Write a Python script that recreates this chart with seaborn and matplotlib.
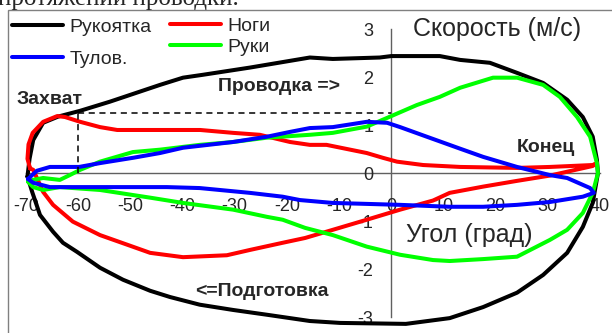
import numpy as np
import pandas as pd
import matplotlib
matplotlib.use("Agg")
import matplotlib.pyplot as plt
import seaborn as sns

# Segment speeds over the stroke cycle: drive (catch -> finish) and recovery (finish -> catch)
handle_drive_angle = [-69.7, -69.3, -68.6, -66.7, -63.8, -59.6, -53.9, -44.3, -39.9, -36.1, -27.1,
                      -15.6, -11.2, -2.2, 0.0, 9.3, 13.2, 18.9, 24.1, 29.1, 33.7, 36.7, 38.6, 39.4, 39.6]
handle_drive_speed = [-0.07, 0.30, 0.69, 1.05, 1.18, 1.30, 1.49, 1.84, 1.99, 2.05, 2.20,
                      2.41, 2.38, 2.41, 2.44, 2.44, 2.36, 2.30, 2.09, 1.88, 1.53, 1.17, 0.76, 0.28, 0.0]
handle_recovery_angle = [39.6, 38.6, 36.7, 33.7, 29.1, 24.1, 17.6, 11.2, 2.8, -9.8, -15.6, -23.8,
                         -30.3, -36.7, -42.4, -46.2, -51.4, -55.8, -60.2, -62.9, -64.8, -67.3, -68.8, -69.7]
handle_recovery_speed = [0.0, -0.62, -1.12, -1.66, -2.12, -2.49, -2.79, -3.02, -3.14, -3.12, -3.08, -2.95,
                         -2.85, -2.74, -2.58, -2.45, -2.22, -1.97, -1.64, -1.45, -1.22, -0.87, -0.39, -0.07]

legs_drive_angle = [-69.2, -69.7, -69.5, -68.7, -66.7, -64.0, -62.5, -59.6, -55.8, -52.5, -44.3, -36.6,
                    -30.3, -25.2, -19.4, -15.6, -12.4, -4.7, -1.6, 1.1, 6.1, 13.2, 24.1, 30.4, 38.6, 39.4]
legs_drive_speed = [0.10, 0.30, 0.60, 0.84, 1.07, 1.19, 1.17, 1.07, 0.96, 0.90, 0.90, 0.90,
                    0.84, 0.80, 0.65, 0.59, 0.59, 0.42, 0.32, 0.24, 0.17, 0.13, 0.11, 0.13, 0.17, 0.21]
legs_recovery_angle = [39.4, 38.6, 30.4, 24.1, 17.6, 11.2, 8.0, 1.7, -4.7, -11.2, -16.5, -20.8,
                       -27.1, -31.5, -39.9, -46.2, -50.6, -55.8, -61.0, -64.8, -66.7, -68.6, -69.2]
legs_recovery_speed = [0.21, 0.15, -0.05, -0.16, -0.28, -0.41, -0.57, -0.76, -0.97, -1.18, -1.35, -1.45,
                       -1.60, -1.71, -1.75, -1.66, -1.49, -1.29, -1.01, -0.66, -0.39, 0.07, 0.10]

arms_drive_angle = [-69.6, -66.7, -63.5, -61.6, -59.6, -55.8, -49.5, -44.3, -36.7, -30.3, -23.8, -15.6,
                    -11.2, -4.7, -0.2, 4.9, 9.3, 13.2, 19.5, 24.1, 29.1, 32.3, 35.6, 38.1, 39.4, 39.6]
arms_drive_speed = [-0.16, -0.10, -0.14, -0.04, 0.07, 0.24, 0.44, 0.49, 0.59, 0.65, 0.74, 0.80,
                    0.84, 0.97, 1.18, 1.42, 1.59, 1.78, 1.99, 1.99, 1.84, 1.59, 1.17, 0.76, 0.21, 0.0]
arms_recovery_angle = [39.6, 38.6, 36.7, 33.7, 30.4, 24.1, 17.6, 11.2, 8.0, 1.7, -4.7, -11.2,
                       -16.5, -20.8, -23.8, -30.3, -39.9, -46.2, -55.8, -63.5, -66.7, -68.6, -69.6]
arms_recovery_speed = [0.0, -0.41, -0.83, -1.18, -1.39, -1.74, -1.79, -1.83, -1.81, -1.70, -1.53, -1.29,
                       -1.14, -0.97, -0.91, -0.76, -0.62, -0.51, -0.35, -0.29, -0.35, -0.29, -0.18]

trunk_drive_angle = [-69.6, -67.9, -65.4, -59.8, -55.8, -49.5, -44.3, -39.9, -30.3, -23.8, -19.4, -15.6,
                     -11.2, -4.7, -0.8, 1.7, 6.8, 13.2, 17.6, 24.1, 30.4, 33.7, 38.1, 38.8]
trunk_drive_speed = [-0.12, 0.05, 0.13, 0.13, 0.21, 0.32, 0.42, 0.53, 0.65, 0.76, 0.86, 0.94,
                     0.96, 1.07, 1.05, 0.96, 0.76, 0.51, 0.34, 0.13, -0.04, -0.10, -0.31, -0.41]
trunk_recovery_angle = [38.8, 36.7, 30.4, 24.1, 17.6, 11.2, 1.7, -4.7, -11.2, -17.5, -20.8, -27.1,
                        -36.7, -43.0, -55.8, -65.4, -68.6, -69.6]
trunk_recovery_speed = [-0.41, -0.49, -0.60, -0.66, -0.70, -0.70, -0.66, -0.64, -0.62, -0.56, -0.49, -0.41,
                        -0.31, -0.29, -0.29, -0.29, -0.20, -0.12]

segments = ["Рукоятка", "Ноги", "Руки", "Тулов."]
colors = {"Рукоятка": "#000000", "Ноги": "#FF0000", "Руки": "#00FF00", "Тулов.": "#0000FF"}

catch_angle = -60
catch_speed = 1.25

paths = {
    "Рукоятка": (handle_drive_angle + handle_recovery_angle, handle_drive_speed + handle_recovery_speed),
    "Ноги": (legs_drive_angle + legs_recovery_angle, legs_drive_speed + legs_recovery_speed),
    "Руки": (arms_drive_angle + arms_recovery_angle, arms_drive_speed + arms_recovery_speed),
    "Тулов.": (trunk_drive_angle + trunk_recovery_angle, trunk_drive_speed + trunk_recovery_speed),
}
frames = []
for name in segments:
    a, s = paths[name]
    frames.append(pd.DataFrame({"angle": a, "speed": s, "segment": name, "step": np.arange(len(a))}))
df = pd.concat(frames, ignore_index=True)

sns.set_style("white")
plt.rcParams["font.family"] = ["Liberation Sans", "DejaVu Sans"]
plt.rcParams["axes.unicode_minus"] = False

W, H = 612, 333
fig = plt.figure(figsize=(W / 100, H / 100), dpi=100)
ax = fig.add_axes([8 / W, 0, (611 - 8) / W, (333 - 10) / H])
ax.set_xlim(-73.43, 42.1)
ax.set_ylim(-3.33, 3.40)
ax.patch.set_alpha(0)

sns.lineplot(data=df, x="angle", y="speed", hue="segment", hue_order=segments, palette=colors,
             sort=False, estimator=None, units="segment", linewidth=2.9, legend=False, ax=ax)

# catch marker: dashed guides
ax.plot([catch_angle, catch_angle], [0, catch_speed], ls=(0, (4, 3)), color="black", lw=1.1)
ax.plot([catch_angle, 0], [catch_speed, catch_speed], ls=(0, (4, 3)), color="black", lw=1.1)

# crossing axes through the origin
for side in ["top", "right"]:
    ax.spines[side].set_visible(False)
ax.spines["left"].set_position(("data", 0))
ax.spines["bottom"].set_position(("data", 0))
for side in ["left", "bottom"]:
    ax.spines[side].set_color("#606060")
    ax.spines[side].set_linewidth(1.0)
    ax.spines[side].set_zorder(0.5)
ax.spines["left"].set_bounds(-3, 3)
ax.spines["bottom"].set_bounds(-70, 40)

ax.set_xticks(np.arange(-70, 41, 10))
ax.set_yticks(np.arange(-3, 4, 1))
ax.tick_params(axis="both", direction="inout", length=7, width=1, color="#606060", labelsize=13)
ax.tick_params(axis="x", pad=14.5)
ax.tick_params(axis="y", pad=9.5)
ax.set_xlabel("")
ax.set_ylabel("")

ax.text(4.2, 3.0, "Скорость (м/с)", fontsize=18, ha="left", va="center")
ax.text(2.8, -1.29, "Угол (град)", fontsize=18, ha="left", va="center")

bold = dict(fontsize=14, fontweight="bold", ha="left", va="center")
ax.text(-71.7, 1.53, "Захват", **bold)
ax.text(-33.2, 1.80, "Проводка =>", **bold)
ax.text(24.1, 0.53, "Конец", **bold)
ax.text(-37.6, -2.47, "<=Подготовка", **bold)

# two legend columns with their own row spacing
lines = {name: ax.lines[i] for i, name in enumerate(segments)}
px = lambda x, y: (x / W, 1 - y / H)
leg_kw = dict(frameon=False, fontsize=14, handlelength=2.6, handletextpad=0.35,
              borderpad=0, borderaxespad=0, loc="upper left")
leg1 = fig.legend([lines["Рукоятка"], lines["Тулов."]], ["Рукоятка", "Тулов."],
                  bbox_to_anchor=px(12, 18), labelspacing=0.75, **leg_kw)
leg2 = fig.legend([lines["Ноги"], lines["Руки"]], ["Ноги", "Руки"],
                  bbox_to_anchor=px(170, 17), labelspacing=0.2, **leg_kw)

# chart border
fig.add_artist(plt.Rectangle((8 / W, -0.05), 1.0, 1 - 10 / H + 0.05, transform=fig.transFigure,
                             fill=False, edgecolor="#808080", lw=1.0))
fig.text(-0.003, 1 - 5 / H, "протяжении проводки.", fontsize=18, family="Liberation Serif",
         ha="left", va="baseline")

fig.savefig("out.png", dpi=100)
